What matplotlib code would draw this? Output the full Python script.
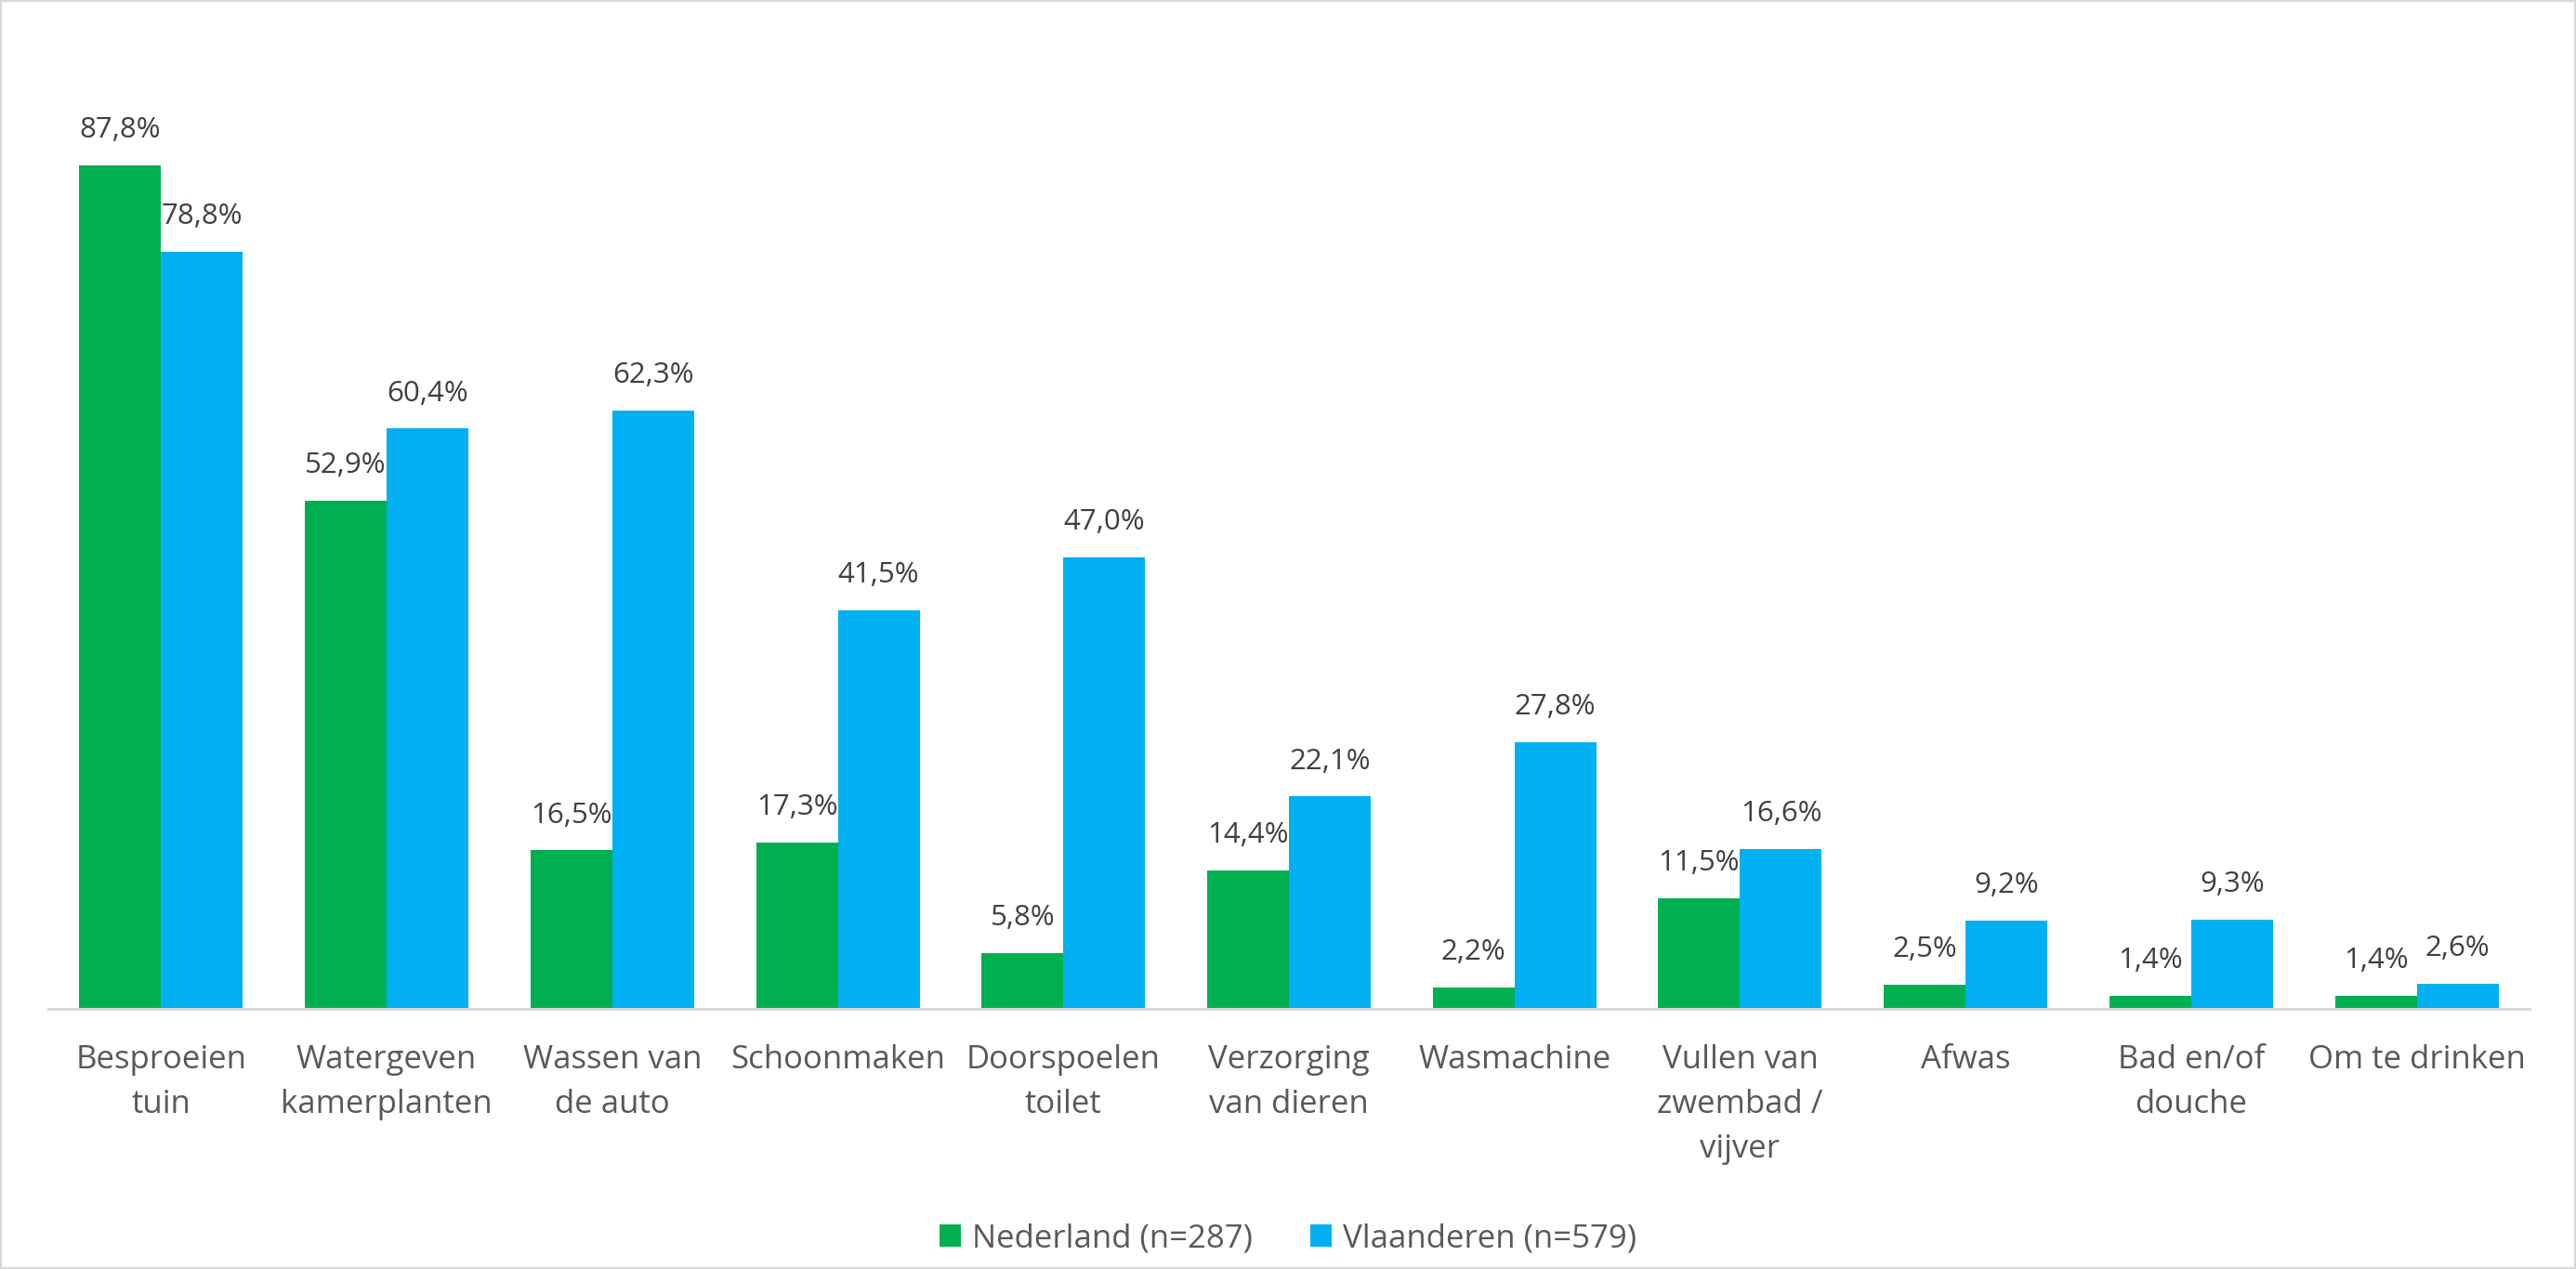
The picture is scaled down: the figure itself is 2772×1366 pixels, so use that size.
import matplotlib
matplotlib.use("Agg")
import matplotlib.pyplot as plt
from matplotlib.patches import Rectangle, Patch
import numpy as np

categories = ["Besproeien\ntuin", "Watergeven\nkamerplanten", "Wassen van\nde auto",
              "Schoonmaken", "Doorspoelen\ntoilet", "Verzorging\nvan dieren",
              "Wasmachine", "Vullen van\nzwembad /\nvijver", "Afwas",
              "Bad en/of\ndouche", "Om te drinken"]
nederland = [87.8, 52.9, 16.5, 17.3, 5.8, 14.4, 2.2, 11.5, 2.5, 1.4, 1.4]
vlaanderen = [78.8, 60.4, 62.3, 41.5, 47.0, 22.1, 27.8, 16.6, 9.2, 9.3, 2.6]
series_names = ["Nederland (n=287)", "Vlaanderen (n=579)"]

GREEN = "#00B050"
BLUE = "#00B0F0"
plt.rcParams['font.family'] = ['Open Sans', 'DejaVu Sans']

W, H = 2772, 1366
fig = plt.figure(figsize=(W / 100, H / 100), dpi=100)
ax = fig.add_axes([52 / W, (H - 1086) / H, 2670 / W, 1034 / H])

n = len(categories)
x = np.arange(n)
bw = 88 / 242.7
ax.bar(x - bw / 2, nederland, bw, color=GREEN, edgecolor="none", label=series_names[0])
ax.bar(x + bw / 2, vlaanderen, bw, color=BLUE, edgecolor="none", label=series_names[1])

def fmt(v):
    return f"{v:.1f}%".replace(".", ",")

for xi, v in zip(x - bw / 2, nederland):
    ax.annotate(fmt(v), (xi, v), xytext=(0, 21.5), textcoords="offset points",
                ha="center", va="baseline", fontsize=22.5, color="#404040")
for xi, v in zip(x + bw / 2, vlaanderen):
    ax.annotate(fmt(v), (xi, v), xytext=(0, 21.5), textcoords="offset points",
                ha="center", va="baseline", fontsize=22.5, color="#404040")

ax.set_xlim(-0.5, n - 0.5)
ax.set_ylim(0, 100)
ax.set_yticks([])
ax.set_xticks(x)
ax.set_xticklabels(categories, fontsize=25, color="#595959", linespacing=1.55)
ax.tick_params(axis="x", length=0, pad=27)
for s in ["top", "right", "left"]:
    ax.spines[s].set_visible(False)
ax.spines["bottom"].set_color("#D9D9D9")
ax.spines["bottom"].set_linewidth(2.2)

handles = [Patch(facecolor=GREEN), Patch(facecolor=BLUE)]
fig.legend(handles, series_names, loc="center", bbox_to_anchor=(0.5, (H - 1333) / H),
           ncol=2, frameon=False, fontsize=25, labelcolor="#595959",
           handlelength=0.66, handleheight=0.66, handletextpad=0.35, columnspacing=1.8)

fig.patches.append(Rectangle((0, 0), 1, 1, transform=fig.transFigure, fill=False,
                             edgecolor="#D9D9D9", linewidth=3))

fig.savefig("out.png", dpi=100)
